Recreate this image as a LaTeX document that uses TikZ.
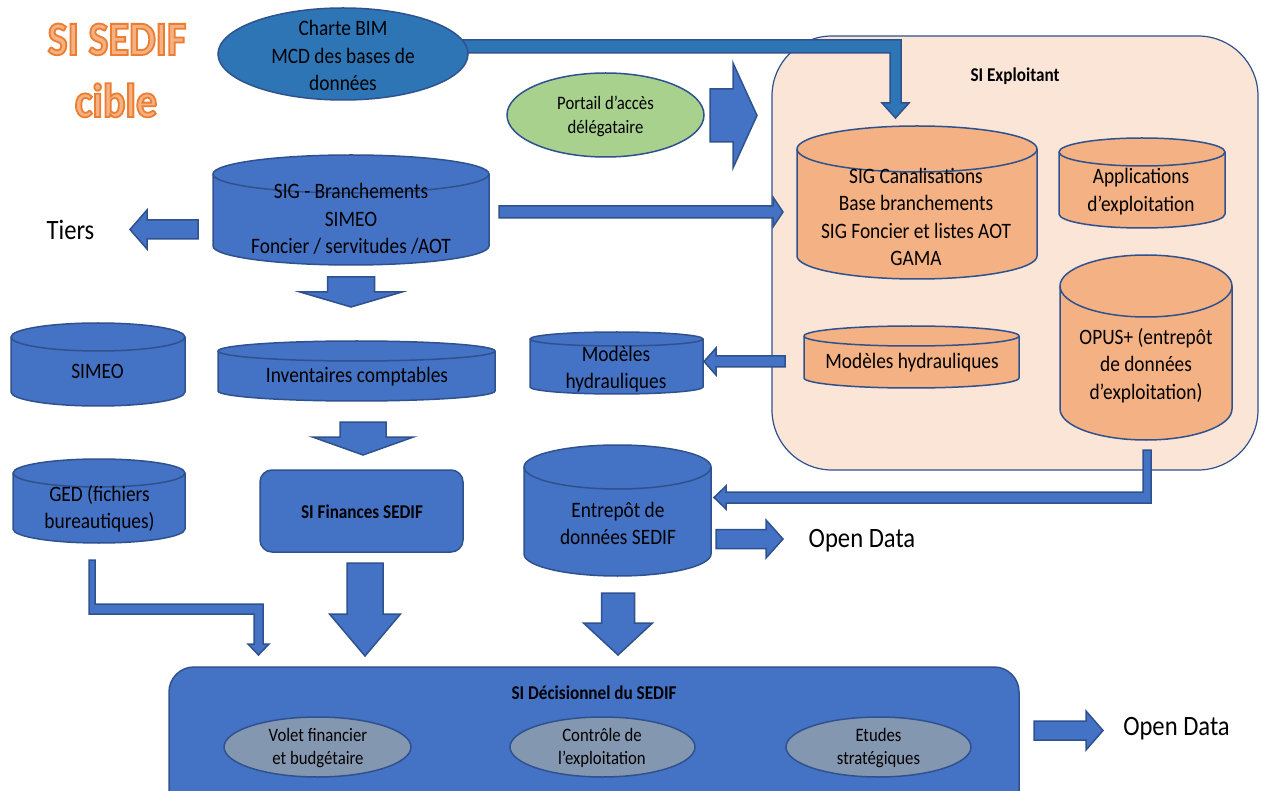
\documentclass[tikz,border=0pt]{standalone}
\usepackage{fontspec}
\setmainfont{Carlito}[FakeStretch=0.88]
\usetikzlibrary{shapes.geometric}
\definecolor{cblue}{HTML}{4472C4}
\definecolor{cdark}{HTML}{2E75B6}
\definecolor{cborder}{HTML}{2F528F}
\definecolor{cgreen}{HTML}{A9D18E}
\definecolor{corange}{HTML}{F4B183}
\definecolor{cpeach}{HTML}{FBE5D6}
\definecolor{cgray}{HTML}{8497B0}
\definecolor{ctitlefill}{HTML}{F4B183}
\newcommand{\bodyfont}{\fontsize{22}{27.3}\selectfont}
\newcommand{\outlined}[1]{\special{pdf:literal direct 0.929 0.490 0.192 RG 1.8 w 2 Tr}#1\special{pdf:literal direct 0 Tr}}
\tikzset{
  blk/.style={fill=cblue, draw=cborder, line width=1.5pt},
  blkdark/.style={fill=cdark, draw=cborder, line width=1.5pt},
  cylblue/.style={fill=cblue, draw=cborder, line width=1.5pt},
  cylorange/.style={fill=corange, draw=cborder, line width=1.5pt},
  txt/.style={inner sep=0pt, align=center, font=\bodyfont, text=black},
  boldtxt/.style={inner sep=0pt, align=center, font=\bfseries\fontsize{19.5}{23}\selectfont},
  bigtxt/.style={inner sep=0pt, anchor=base, font=\fontsize{28}{34}\selectfont},
  smalltxt/.style={inner sep=0pt, align=center, font=\fontsize{19}{23.5}\selectfont},
  ellnode/.style={ellipse, draw=cborder, line width=1.5pt, inner sep=0pt},
  titletxt/.style={anchor=base, inner sep=0pt, text=ctitlefill, font=\bfseries\fontsize{48}{54}\selectfont},
}
% cylinder: xl xr ytop ybottom ry style
\newcommand{\cylshape}[6]{%
  \pgfmathsetmacro{\cylrx}{(#2-#1)/2}%
  \filldraw[#6] (#1,#3+#5) -- (#1,#4-#5) arc[start angle=180,end angle=360,x radius=\cylrx pt,y radius=#5pt] -- (#2,#3+#5) arc[start angle=0,end angle=180,x radius=\cylrx pt,y radius=#5pt] -- cycle;
  \draw[#6, fill=none] (#1,#3+#5) arc[start angle=180,end angle=360,x radius=\cylrx pt,y radius=#5pt];}
% horizontal block arrow: xstart xbase xtip yc shafthalf headhalf style
\newcommand{\harrow}[7]{%
  \filldraw[#7] (#1,#4-#5) -- (#2,#4-#5) -- (#2,#4-#6) -- (#3,#4) -- (#2,#4+#6) -- (#2,#4+#5) -- (#1,#4+#5) -- cycle;}
% vertical block arrow: ystart ybase ytip xc shafthalf headhalf style
\newcommand{\varrow}[7]{%
  \filldraw[#7] (#4-#5,#1) -- (#4-#5,#2) -- (#4-#6,#2) -- (#4,#3) -- (#4+#6,#2) -- (#4+#5,#2) -- (#4+#5,#1) -- cycle;}
\begin{document}
\begin{tikzpicture}[x=1pt,y=-1pt]
\useasboundingbox (0,0) rectangle (1261,791);
\clip (0,0) rectangle (1261,791);
\fill[white] (0,0) rectangle (1261,791);

% title
\node[titletxt] (title1) at (117,55) {\outlined{SI SEDIF}};
\node[titletxt] (title2) at (116,117) {\outlined{cible}};

% SI Exploitant box
\node[draw=cborder, fill=cpeach, line width=1.2pt, rounded corners=60pt, minimum width=486pt, minimum height=434pt, inner sep=0pt] (exploit) at (1015,253) {};
\node[boldtxt] (siexp) at (1015,76) {SI Exploitant};

% Charte BIM elbow arrow
\filldraw[blkdark] (440,40) -- (901,40) -- (901,103) -- (909,103) -- (895.5,118) -- (882,103) -- (890,103) -- (890,53) -- (440,53) -- cycle;
\node[ellnode, fill=cdark, minimum width=250pt, minimum height=92pt] (charte) at (343,54) {};
\node[txt] (charte-t) at (343,55.5) {Charte BIM\\MCD des bases de\\données};

% Portail
\node[ellnode, fill=cgreen, minimum width=197pt, minimum height=84pt] (portail) at (605.5,115) {};
\node[smalltxt] (portail-t) at (605.5,116.5) {Portail d’accès\\délégataire};
\harrow{710}{733}{757}{115.5}{26.5}{52.5}{blk}

% orange cylinders
\cylshape{797}{1037}{126}{279}{23}{cylorange}
\node[txt] (canal-t) at (916,217) {SIG Canalisations\\Base branchements\\SIG Foncier et listes AOT\\GAMA};
\cylshape{1059}{1225}{138}{228}{14}{cylorange}
\node[txt] (appli-t) at (1141,191.5) {Applications\\d’exploitation};
\cylshape{1060}{1232}{255}{440}{31}{cylorange}
\node[txt] (opus-t) at (1146,365.5) {OPUS+ (entrepôt\\de données\\d’exploitation)};
\cylshape{804}{1019}{326}{388}{10}{cylorange}
\node[txt] (modo-t) at (912,363) {Modèles hydrauliques};

% SIG - Branchements
\cylshape{213}{489}{155}{265}{19}{cylblue}
\node[txt] (sigb-t) at (351,219) {SIG - Branchements\\SIMEO\\Foncier / servitudes /AOT};
\harrow{499}{773}{783}{212}{6}{15}{blk}
\harrow{198}{147}{130}{229.5}{9.5}{19.5}{blk}
\node[bigtxt] (tiers) at (70.5,240) {Tiers};
\varrow{277}{292}{307}{351}{23.5}{51}{blk}

% middle row
\cylshape{11}{185}{323}{406}{14}{cylblue}
\node[txt] (simeo-t) at (97.5,371) {SIMEO};
\cylshape{218}{495}{341}{401}{10}{cylblue}
\node[txt] (inv-t) at (357,377) {Inventaires comptables};
\cylshape{530}{703}{332}{394}{7}{cylblue}
\node[txt] (modb-t) at (616,369) {Modèles\\hydrauliques};
\harrow{785}{716}{704}{361.5}{5.5}{13.5}{blk}
\varrow{422}{437}{455}{363}{23}{50.5}{blk}

% lower row
\cylshape{13}{185}{459}{543}{14}{cylblue}
\node[txt] (ged-t) at (99.5,509) {GED (fichiers\\bureautiques)};
\node[draw=cborder, fill=cblue, line width=1.5pt, rounded corners=12pt, minimum width=203pt, minimum height=82pt, inner sep=0pt] (sifin) at (361.5,511) {};
\node[boldtxt] (sifin-t) at (362,512) {SI Finances SEDIF};
\cylshape{524}{711}{445}{576}{22}{cylblue}
\node[txt] (entre-t) at (618,523.5) {Entrepôt de\\données SEDIF};
\filldraw[blk] (1143,450) -- (1151,450) -- (1151,503) -- (726,503) -- (726,509) -- (714,497.5) -- (726,486) -- (726,492) -- (1143,492) -- cycle;
\harrow{716}{766}{783}{539}{9.5}{19}{blk}
\node[bigtxt] (open1) at (862,547) {Open Data};

% arrows to decisionnel
\filldraw[blk] (89,560) -- (95,560) -- (95,604) -- (263,604) -- (263,644) -- (269,644) -- (258.5,655) -- (248,644) -- (254,644) -- (254,614) -- (89,614) -- cycle;
\varrow{563}{614}{656}{365}{18}{35.5}{blk}
\varrow{593}{623}{655}{618}{16.5}{34.5}{blk}

% SI Decisionnel
\node[draw=cborder, fill=cblue, line width=1.5pt, rounded corners=25pt, minimum width=850pt, minimum height=150pt, inner sep=0pt] (sidec) at (594,742) {};
\node[boldtxt] (sidec-t) at (594,693) {SI Décisionnel du SEDIF};
\node[ellnode, fill=cgray, minimum width=187pt, minimum height=60pt] (volet) at (317.5,747) {};
\node[smalltxt] (volet-t) at (318,748) {Volet financier\\et budgétaire};
\node[ellnode, fill=cgray, minimum width=185pt, minimum height=60pt] (controle) at (602.5,747) {};
\node[smalltxt] (controle-t) at (602,748) {Contrôle de\\l’exploitation};
\node[ellnode, fill=cgray, minimum width=185pt, minimum height=60pt] (etudes) at (878.5,747) {};
\node[smalltxt] (etudes-t) at (878.5,748) {Etudes\\stratégiques};
\harrow{1034}{1086}{1103}{730.5}{9.5}{19.5}{blk}
\node[bigtxt] (open2) at (1176.5,735) {Open Data};
\end{tikzpicture}
\end{document}
